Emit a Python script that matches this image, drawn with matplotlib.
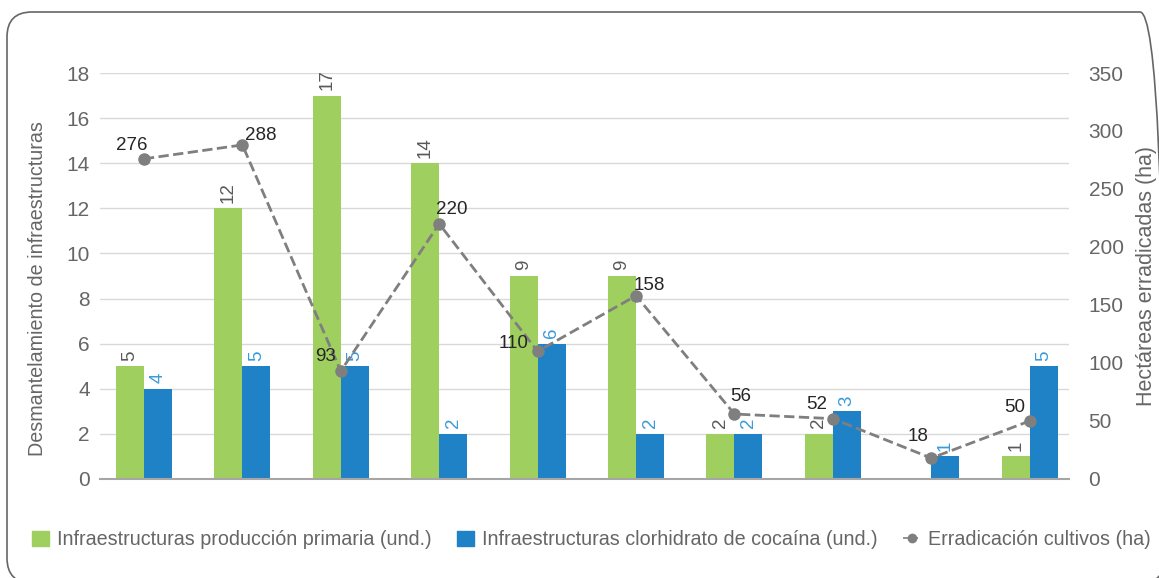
import matplotlib.pyplot as plt
import numpy as np
from matplotlib.patches import FancyBboxPatch
from matplotlib.lines import Line2D
from matplotlib.patches import Patch

plt.rcParams['font.family'] = ['Liberation Sans', 'DejaVu Sans']

# data
primaria = [5, 12, 17, 14, 9, 9, 2, 2, 0, 1]
clorhidrato = [4, 5, 5, 2, 6, 2, 2, 3, 1, 5]
erradicacion = [276, 288, 93, 220, 110, 158, 56, 52, 18, 50]

# label offsets (pixels, text centre relative to the marker) for the line values
line_offsets = [(-12, 13), (18, 9), (-15, 15), (13, 14), (-24, 8),
                (13, 10), (6, 18), (-16, 14), (-13, 22), (-15, 13)]

GREEN = '#9fcf5f'
BLUE = '#1f82c6'
GREY_TXT = '#666666'
LINE = '#7f7f7f'

fig = plt.figure(figsize=(11.59, 5.78), dpi=100)
ax = fig.add_axes([0.086, 0.1713, 0.8364, 0.7024])
ax2 = ax.twinx()

x = np.arange(len(primaria))
w = 0.285
ax.bar(x - w / 2, primaria, w, color=GREEN, zorder=2)
ax.bar(x + w / 2, clorhidrato, w, color=BLUE, zorder=2)

for xi, v in zip(x, primaria):
    if v > 0:
        ax.annotate(str(v), (xi - w / 2, v), xytext=(0, 4), textcoords='offset points',
                    rotation=90, ha='center', va='bottom', fontsize=13.5, color='#595959')
for xi, v in zip(x, clorhidrato):
    ax.annotate(str(v), (xi + w / 2, v), xytext=(0, 4), textcoords='offset points',
                rotation=90, ha='center', va='bottom', fontsize=13.5, color='#3a9ad9')

ax.set_xlim(-0.45, 9.4)
ax.set_ylim(0, 18)
ax.set_yticks(range(0, 19, 2))
ax.set_xticks([])
ax.grid(axis='y', color='#d9d9d9', lw=1, zorder=0)
ax.set_axisbelow(True)
for s in ['top', 'right', 'left']:
    ax.spines[s].set_visible(False)
ax.spines['bottom'].set_color('#a6a6a6')
ax.spines['bottom'].set_linewidth(1.5)
ax.tick_params(axis='y', length=0, pad=7, labelsize=15, labelcolor=GREY_TXT)
ax.set_ylabel('Desmantelamiento de infraestructuras', fontsize=14.2, color=GREY_TXT)
ax.yaxis.set_label_coords(-0.054, 0.47)

ax2.plot(x, erradicacion, ls='--', lw=2, color=LINE, marker='o', ms=8, zorder=3)
for xi, v, (dx, dy) in zip(x, erradicacion, line_offsets):
    ax2.annotate(str(v), (xi, v), xytext=(dx * 0.72, dy * 0.72), textcoords='offset points',
                 ha='center', va='center', fontsize=13.5, color='#262626')
ax2.set_ylim(0, 350)
ax2.set_yticks(range(0, 351, 50))
for s in ['top', 'right', 'left', 'bottom']:
    ax2.spines[s].set_visible(False)
ax2.tick_params(axis='y', length=0, pad=14, labelsize=15, labelcolor=GREY_TXT)
ax2.set_ylabel('Hectáreas erradicadas (ha)', fontsize=15.5, color=GREY_TXT, labelpad=9)

handles = [Patch(color=GREEN), Patch(color=BLUE),
           Line2D([], [], ls='--', color=LINE, marker='o', ms=6, lw=1.2)]
labels = ['Infraestructuras producción primaria (und.)',
          'Infraestructuras clorhidrato de cocaína (und.)',
          'Erradicación cultivos (ha)']
fig.legend(handles, labels, loc='center', bbox_to_anchor=(0.5104, 0.066), ncol=3,
           frameon=False, fontsize=14.2, labelcolor=GREY_TXT, handlelength=0.85,
           handleheight=0.85, handletextpad=0.4, columnspacing=1.3)

# rounded frame around the figure
frame = FancyBboxPatch((7, -5), 1158, 571, boxstyle='round,pad=0,rounding_size=25',
                       transform=None, fill=False, ec='#666666', lw=1.2)
fig.patches.append(frame)

fig.savefig('out.png', dpi=100)
